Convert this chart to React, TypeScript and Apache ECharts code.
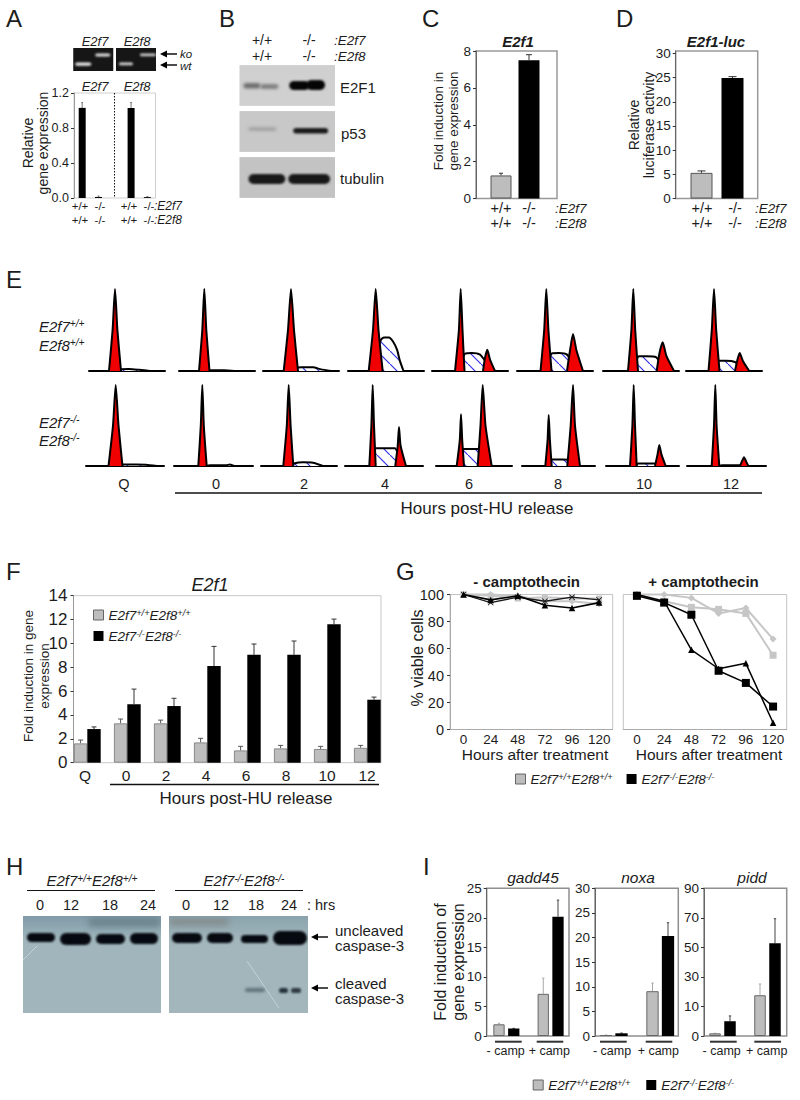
import React, { useEffect, useRef } from "react";
import * as echarts from "echarts";

const FONT = "Liberation Sans";
const WT = "E2f7+/+E2f8+/+";
const KO = "E2f7-/-E2f8-/-";
const GRAY = "#bdbdbd";
const INK = "#1c1c1c";

// ---------- Panel A ----------
const aValues = [1.03, 0.012, null, 1.03, 0.01];
const aErrTop = [1.09, 0.022, null, 1.09, 0.016];

// ---------- Panels C, D ----------
const cGray = [1.25]; const cBlack = [7.5];
const cGrayTop = [1.37]; const cBlackTop = [7.8];
const dGray = [5.3]; const dBlack = [24.9];
const dGrayTop = [5.7]; const dBlackTop = [25.2];

// ---------- Panel E: flow histograms, [channel, % of tallest peak] ----------
const flowHours = ["Q", "0", "2", "4", "6", "8", "10", "12"];
const flowTopG1 = [
  [[20,0],[23.6,50],[26,100],[28.4,50],[32,0]],
  [[20,0],[23.3,50],[25.3,100],[27.3,50],[30.5,0]],
  [[20.7,0],[25,50],[28,100],[31,50],[35,0]],
  [[20.7,0],[25,50],[27.7,100],[30.5,50],[34.7,0]],
  [[23,0],[26.9,50],[28.7,100],[30.5,50],[32.5,0]],
  [[23.5,0],[27.2,50],[29.3,100],[31.4,50],[34.5,0]],
  [[25,0],[28.4,50],[30.3,100],[32.2,50],[35,0]],
  [[22.5,0],[25.8,50],[28,100],[30.2,50],[33.5,0]],
];
const flowTopS = [
  [[28,0],[31,2],[40,2.5],[50,1.5],[61,0]],
  [[28,0],[32,1],[45,1],[56,0]],
  [[28,0],[33,3.5],[38,4.5],[50,4.5],[58,2],[68,0]],
  [[24,0],[29,25],[33,38],[36,41],[41,41],[45,36],[49,26],[52,12],[55.5,0]],
  [[25,0],[30,14],[33,21],[40,22],[48,20],[54,11],[61,0]],
  [[26,0],[31,13],[35,21.5],[42,22],[50,20],[55,10],[60,0]],
  [[28.5,0],[33,12],[36,18],[44,18],[53,17],[58,9],[64,0]],
  [[25.5,0],[29,8],[32.5,12.5],[40,12.5],[49,11],[53,6],[57.5,0]],
];
const flowTopG2 = [
  null, null, null, null,
  [[51,0],[53,16],[55.3,26],[58,14],[63,0]],
  [[50,0],[53,25],[56,45],[59.5,25],[66,0]],
  [[53.7,0],[56.5,22],[59.7,35],[63.5,18],[71,0]],
  [[49,0],[51.5,14],[53.7,22],[57,12],[63.3,0]],
];
const flowBotG1 = [
  [[22.5,0],[27,50],[29.7,100],[32.5,50],[36.5,0]],
  [[24.3,0],[26.8,50],[28.3,100],[29.8,50],[32.7,0]],
  [[22.3,0],[25.8,50],[27.7,100],[29.6,50],[32.3,0]],
  [[24.3,0],[26.4,50],[27.7,100],[29,50],[30.7,0]],
  [[20.7,0],[23.8,32],[25,64],[26.2,32],[28,0]],
  [[23.3,0],[25.6,32],[26.7,63],[27.9,32],[29.7,0]],
  [[24,0],[26.4,50],[27.7,100],[29,50],[30.7,0]],
  [[24.7,0],[27,50],[28.3,100],[29.6,50],[32.3,0]],
];
const flowBotS = [
  [[34,0],[36,2],[50,2],[60,1.5],[71,0]],
  [[32,0],[36,0.8],[52,0.8],[56,2],[60,0]],
  [[29,0],[34,3.5],[42,4.5],[52,4],[62,0]],
  [[25,0],[27,10],[31,22],[40,22],[50,22],[54,10],[57,0]],
  [[22,0],[24,10],[27.5,21],[35,21],[42,21],[47,10],[51.5,0]],
  [[24.7,0],[27,5],[30,8],[40,8],[48,7.5],[50.5,3],[53,0]],
  [[30,0],[32,3],[40,3],[49,3],[52,0]],
  [[32,0],[35,1],[45,1],[53,1],[55,0]],
];
const flowBotG2 = [
  null, null, null,
  [[50.3,0],[52.7,25],[54,48],[55.6,25],[61,0]],
  [[41.7,0],[44.5,50],[46.7,100],[49.5,50],[55.7,0]],
  [[45.3,0],[48.7,50],[51,100],[53,50],[58,0]],
  [[49,0],[51.5,14],[53.3,26],[55.5,14],[59.7,0]],
  [[53,0],[55,6],[57,10.7],[59,6],[61.3,0]],
];

// ---------- Panel F ----------
const fHours = ["Q", "0", "2", "4", "6", "8", "10", "12"];
const fGray = [1.62, 3.3, 3.3, 1.7, 1.03, 1.2, 1.15, 1.25];
const fGrayTop = [1.9, 3.66, 3.57, 2.04, 1.37, 1.45, 1.37, 1.45];
const fBlack = [2.82, 4.9, 4.75, 8.1, 9.05, 9.05, 11.6, 5.28];
const fBlackTop = [3.0, 6.17, 5.4, 9.75, 9.95, 10.2, 12.04, 5.5];

// ---------- Panel G ----------
const gHours = ["0", "24", "48", "72", "96", "120"];
const gMinusGraySquare = [100, 99, 97, 98, 97, 97];
const gMinusGrayDiamond = [100, 100, 99, 95, 95, 93];
const gMinusBlackCross = [100, 94, 98, 95, 98, 96];
const gMinusBlackTriangle = [100, 96, 99, 92, 90, 94];
const gPlusGrayDiamond = [100, 100, 97.5, 86, 90, 67];
const gPlusGraySquare = [100, 95, 90.5, 89, 86, 55];
const gPlusBlackSquare = [99, 94, 85, 43.5, 34.5, 17];
const gPlusBlackTriangle = [100, 95, 59, 45, 49, 5];

// ---------- Panel I ----------
const gadd45Values = [1.98, 1.25, null, 7.14, 20.2];
const gadd45Top = [2.15, 1.3, null, 9.8, 23];
const noxaValues = [0.2, 0.55, null, 9.1, 20.3];
const noxaTop = [0.2, 0.6, null, 10.75, 23];
const piddValues = [0.9, 5, null, 17.6, 52.8];
const piddTop = [0.9, 6.8, null, 25.2, 69.4];
const piddTickLabels = ["0", "10", "30", "50", "70", "90"];

// Blot bands: [x, y, width, height, colour, blur]
type Band = [number, number, number, number, string, number];
const gelE2f7Bands: Band[] = [[2, 14.5, 16, 3.2, "#e8e8e8", 0.8], [22, 5.5, 15, 3, "#e0e0e0", 0.8]];
const gelE2f8Bands: Band[] = [[3, 14.5, 14, 2.8, "#d6d6d6", 0.8], [24, 5.5, 16, 2.8, "#cccccc", 0.8]];
const e2f1Bands: Band[] = [[4, 18, 17, 5.5, "#6e6e6e", 1.6], [21, 19, 18, 5, "#808080", 1.6], [50, 16, 20, 9, "#050505", 1.2], [67, 15, 19, 10, "#050505", 1.2]];
const p53Bands: Band[] = [[9, 16, 28, 4, "#a5a5a5", 1.6], [54, 17, 35, 5.5, "#1a1a1a", 1.2]];
const tubulinBands: Band[] = [[9, 17, 37, 10, "#181818", 1.2], [49, 17, 42, 10, "#181818", 1.2]];
const hLeftBands: Band[] = [[65, 2, 73, 9, "rgba(85,105,115,0.55)", 3], [4, 17, 28, 9, "#060a10", 1], [37, 17, 31, 12, "#060a10", 1], [73, 18, 29, 10, "#060a10", 1], [107, 17, 28, 11, "#060a10", 1]];
const hRightBands: Band[] = [[0, 2, 60, 8, "rgba(120,115,110,0.5)", 3], [3, 17, 30, 10, "#060a10", 1], [38, 17, 26, 10, "#060a10", 1], [72, 19, 27, 8, "#060a10", 1], [104, 15, 34, 14, "#060a10", 1], [76, 72, 20, 4, "#5f7078", 1.6], [110, 72, 9, 5, "#24303a", 1.2], [122, 72, 10, 5, "#2d3a40", 1.2]];

function blot(w: number, h: number, top: string, bottom: string, bands: Band[], scratches: number[][] = []) {
  const c = document.createElement("canvas");
  c.width = w; c.height = h;
  const ctx: any = c.getContext("2d");
  const g = ctx.createLinearGradient(0, 0, 0, h);
  g.addColorStop(0, top); g.addColorStop(0.25, bottom); g.addColorStop(1, bottom);
  ctx.fillStyle = g; ctx.fillRect(0, 0, w, h);
  bands.forEach(([x, y, bw, bh, col, blur]) => {
    ctx.filter = `blur(${blur}px)`;
    ctx.fillStyle = col;
    ctx.beginPath();
    ctx.roundRect(x, y, bw, bh, bh / 2);
    ctx.fill();
  });
  ctx.filter = "blur(0.4px)";
  ctx.strokeStyle = "rgba(235,240,240,0.6)";
  ctx.lineWidth = 0.8;
  scratches.forEach(([a, b, d, e]) => { ctx.beginPath(); ctx.moveTo(a, b); ctx.lineTo(d, e); ctx.stroke(); });
  return c.toDataURL();
}

function hatchCanvas() {
  const c = document.createElement("canvas");
  c.width = 13; c.height = 13;
  const ctx: any = c.getContext("2d");
  ctx.fillStyle = "#ffffff"; ctx.fillRect(0, 0, 13, 13);
  ctx.strokeStyle = "#3232e6"; ctx.lineWidth = 1.2;
  ctx.beginPath(); ctx.moveTo(-2, -2); ctx.lineTo(15, 15); ctx.stroke();
  return c;
}

const baseRich = (size: number, weight = "normal", fill = INK) => ({
  i: { fontFamily: FONT, fontStyle: "italic", fontSize: size, fontWeight: weight, fill, color: fill },
  s: { fontFamily: FONT, fontStyle: "italic", fontSize: size * 0.68, fill, color: fill, verticalAlign: "top" },
});
const genoRich = (a: string, b?: string) => "{i|E2f" + a.slice(0, 1) + "}{s|" + a.slice(1) + "}" + (b ? "{i|E2f" + b.slice(0, 1) + "}{s|" + b.slice(1) + "}" : "");

function T(text: string, x: number, y: number, o: any = {}) {
  return {
    type: "text", x, y, rotation: o.rot || 0, silent: true, z: 20,
    style: {
      text, fontFamily: FONT, fontSize: o.size || 13, fontStyle: o.italic ? "italic" : "normal",
      fontWeight: o.bold ? "bold" : "normal", fill: o.color || INK, align: o.align || "center",
      verticalAlign: "middle", lineHeight: o.lh, rich: o.rich,
    },
  };
}
const L = (x1: number, y1: number, x2: number, y2: number, w = 1.5, color = "#111", dash?: number[]) => ({
  type: "line", silent: true, z: 20, shape: { x1, y1, x2, y2 }, style: { stroke: color, lineWidth: w, lineDash: dash },
});
const arrow = (x1: number, x2: number, y: number) => [
  L(x1, y, x2 + 5, y, 1.5),
  { type: "polygon", silent: true, z: 20, shape: { points: [[x2, y], [x2 + 7, y - 3.5], [x2 + 7, y + 3.5]] }, style: { fill: "#000" } },
];
const img = (src: string, x: number, y: number, width: number, height: number) => ({
  type: "image", x, y, silent: true, z: 5, style: { image: src, x: 0, y: 0, width, height },
});

function App() {
  const ref = useRef<HTMLDivElement>(null);
  useEffect(() => {
    const chart = echarts.init(ref.current!, undefined, { renderer: "svg" });
    const grids: any[] = [], xAxes: any[] = [], yAxes: any[] = [], series: any[] = [];

    const yAxisOf = (gi: number, o: any) => ({
      type: "value", gridIndex: gi, min: 0, max: o.max, interval: o.interval, splitLine: { show: false },
      axisLine: { show: true, onZero: false, lineStyle: { color: o.lineColor || "#666", width: 1 } },
      axisTick: { show: true, length: 3, lineStyle: { color: "#333" }, customValues: o.ticks },
      axisLabel: { fontFamily: FONT, fontSize: o.size, color: INK, margin: o.margin ?? 5, customValues: o.ticks, formatter: o.formatter },
    });

    // bar panel: x units are bar slots, c0 = centre of slot 0 in pixels, step = slot size
    function barPanel(o: any) {
      const gi = grids.length;
      grids.push({ left: o.l, top: o.t, width: o.r - o.l, height: o.b - o.t, show: true, borderColor: o.border, borderWidth: o.borderWidth || 1.5, backgroundColor: "transparent" });
      xAxes.push({ type: "value", gridIndex: gi, min: (o.l - o.c0) / o.step, max: (o.r - o.c0) / o.step, show: false, splitLine: { show: false } });
      yAxes.push(yAxisOf(gi, o));
      return gi;
    }
    const barSeries = (gi: number, name: string, data: any[], color: string, width: number, gap: string, edge?: string) => ({
      type: "bar", name, xAxisIndex: gi, yAxisIndex: gi, data, barWidth: width, barGap: gap, z: 3,
      itemStyle: { color, borderColor: edge || color, borderWidth: edge ? 1 : 0 },
    });
    const errSeries = (gi: number, data: any[], color: string, offset: number, capW: number, lw = 1) => ({
      type: "custom", xAxisIndex: gi, yAxisIndex: gi, data, clip: false, silent: true, z: 2,
      encode: { x: 0, y: [1, 2] },
      renderItem: (_: any, api: any) => {
        const a = api.coord([api.value(0), api.value(1)]);
        const b = api.coord([api.value(0), api.value(2)]);
        const x = a[0] + offset;
        return {
          type: "group",
          children: [
            { type: "line", shape: { x1: x, y1: a[1], x2: x, y2: b[1] }, style: { stroke: color, lineWidth: lw } },
            { type: "line", shape: { x1: x - capW, y1: b[1], x2: x + capW, y2: b[1] }, style: { stroke: color, lineWidth: lw } },
          ],
        };
      },
    });
    const pts = (vals: any[], xs?: number[]) => vals.map((v, i) => [xs ? xs[i] : i, v]);
    const err = (vals: any[], tops: any[], xs?: number[]) => vals.map((v, i) => [xs ? xs[i] : i, v, tops[i]]).filter((d) => d[1] != null);

    // A
    let gi = barPanel({ l: 74, t: 93, r: 155.5, b: 198, c0: 82.2, step: 16.3, border: "#cfcfcf", max: 1.2, interval: 0.4, size: 12.5, borderWidth: 1, formatter: (v: number) => v.toFixed(1), lineColor: "#999" });
    series.push(errSeries(gi, err(aValues, aErrTop), "#777", 0, 1));
    series.push(barSeries(gi, "A", pts(aValues), "#000", 7, "0%"));

    // C
    gi = barPanel({ l: 476, t: 51, r: 557, b: 198.5, c0: 501, step: 28, border: "#999", max: 8, interval: 2, size: 13.5 });
    series.push(errSeries(gi, err(cGray, cGrayTop), "#333", 0, 2), errSeries(gi, err(cBlack, cBlackTop, [1]), "#333", 0, 3));
    series.push(barSeries(gi, "cwt", pts(cGray), GRAY, 21, "-100%", "#555"));
    series.push(barSeries(gi, "cko", pts(cBlack, [1]), "#000", 21, "-100%"));

    // D
    gi = barPanel({ l: 675.7, t: 51, r: 757.7, b: 198.5, c0: 701.5, step: 31, border: "#999", max: 30.5, size: 13.5, ticks: [0, 5, 10, 15, 20, 25, 30] });
    series.push(errSeries(gi, err(dGray, dGrayTop), "#333", 0, 4), errSeries(gi, err(dBlack, dBlackTop, [1]), "#333", 0, 4));
    series.push(barSeries(gi, "dwt", pts(dGray), GRAY, 22, "-100%", "#555"));
    series.push(barSeries(gi, "dko", pts(dBlack, [1]), "#000", 22, "-100%"));

    // E
    const hatch = { image: hatchCanvas(), repeat: "repeat", imageWidth: 13, imageHeight: 13 };
    const flowLine = (gi: number, data: any, fill: any, z: number, name: string) => ({
      type: "line", name, xAxisIndex: gi, yAxisIndex: gi, data, symbol: "none", smooth: 0.2, clip: false, z, silent: true,
      lineStyle: { color: "#000", width: 2 }, areaStyle: { color: fill, opacity: 1 },
    });
    const flowRow = (lefts: number[], rights: number[], baseline: number, height: number, g1: any[], s: any[], g2: any[], row: string) => {
      lefts.forEach((left, i) => {
        const g = grids.length, w = rights[i] - left;
        grids.push({ left, top: baseline - height, width: w, height, show: false });
        xAxes.push({ type: "value", gridIndex: g, min: 0, max: w, axisLine: { show: true, onZero: true, lineStyle: { color: "#000", width: 2 } }, axisTick: { show: false }, axisLabel: { show: false }, splitLine: { show: false } });
        yAxes.push({ type: "value", gridIndex: g, min: 0, max: 100, show: false, splitLine: { show: false } });
        const tag = row + flowHours[i];
        series.push(flowLine(g, s[i], hatch, 3, tag + " S"));
        series.push(flowLine(g, g1[i], "#f00000", 4, tag + " G1"));
        if (g2[i]) series.push(flowLine(g, g2[i], "#f00000", 4, tag + " G2"));
      });
    };
    flowRow([89, 179, 263, 348, 432, 517, 603, 686], [165, 255, 339, 424, 508, 593, 679, 762], 371, 82, flowTopG1, flowTopS, flowTopG2, "wt");
    flowRow([86, 174, 261, 345, 436, 522, 606, 687], [164, 253, 337, 423, 512, 595, 679, 766], 466, 81, flowBotG1, flowBotS, flowBotG2, "ko");

    // F
    gi = barPanel({ l: 73.5, t: 595.7, r: 381, b: 762.7, c0: 87.3, step: 40, border: "#c8c8c8", borderWidth: 1, max: 14, interval: 2, size: 17, margin: 6, lineColor: "#999" });
    series.push(errSeries(gi, err(fGray, fGrayTop), "#555", -6.7, 2.5), errSeries(gi, err(fBlack, fBlackTop), "#333", 6.7, 2.5));
    series.push(barSeries(gi, WT, pts(fGray), GRAY, 13.4, "0%", "#888"));
    series.push(barSeries(gi, KO, pts(fBlack), "#000", 13.4, "0%"));

    // G
    const linePanel = (l: number, r: number, labels: boolean) => {
      const g = grids.length;
      grids.push({ left: l, top: 594.5, width: r - l, height: 135, show: true, borderColor: "#c4c4c4", borderWidth: 1 });
      xAxes.push({ type: "category", gridIndex: g, data: gHours, boundaryGap: true, axisLine: { show: true, lineStyle: { color: "#aaa" } }, axisTick: { show: false }, axisLabel: { fontFamily: FONT, fontSize: 13.5, color: INK, margin: 3, interval: 0 } });
      yAxes.push({ type: "value", gridIndex: g, min: 0, max: 100, interval: 20, splitLine: { show: false }, axisLine: { show: labels, onZero: false, lineStyle: { color: "#aaa" } }, axisTick: { show: labels, length: 3, lineStyle: { color: "#333" } }, axisLabel: { show: labels, fontFamily: FONT, fontSize: 14.5, color: INK, margin: 6 } });
      return g;
    };
    const CROSS = "path://M1 0L5 4L9 0L10 1L6 5L10 9L9 10L5 6L1 10L0 9L4 5L0 1Z";
    const lineS = (g: number, name: string, data: number[], color: string, symbol: string, size: number, w: number, z: number) => ({
      type: "line", name, xAxisIndex: g, yAxisIndex: g, data, symbol, symbolSize: size, z, clip: false, silent: true,
      lineStyle: { color, width: w }, itemStyle: { color },
    });
    const gl = linePanel(450, 612.7, true);
    series.push(lineS(gl, WT, gMinusGraySquare, "#c6c6c6", "rect", 6, 2, 3));
    series.push(lineS(gl, WT, gMinusGrayDiamond, "#c6c6c6", "diamond", 7, 2, 3));
    series.push(lineS(gl, KO, gMinusBlackCross, "#1a1a1a", CROSS, 6, 1.3, 4));
    series.push(lineS(gl, KO, gMinusBlackTriangle, "#000", "triangle", 6.5, 1.6, 5));
    const gr = linePanel(623.3, 786.7, false);
    series.push(lineS(gr, WT, gPlusGrayDiamond, "#c6c6c6", "diamond", 7, 2, 3));
    series.push(lineS(gr, WT, gPlusGraySquare, "#c6c6c6", "rect", 7, 2, 3));
    series.push(lineS(gr, KO, gPlusBlackSquare, "#000", "rect", 8, 1.5, 4));
    series.push(lineS(gr, KO, gPlusBlackTriangle, "#000", "triangle", 6.5, 1.5, 5));

    // I
    const slots = [0, 1, 2, 3, 4];
    const iPanel = (o: any, values: any[], tops: any[], width: number) => {
      const g = barPanel({ t: 888.3, b: 1036, border: "#8f8f8f", size: 13.5, margin: 5, ...o });
      const wt = values.map((v, i) => (i === 0 || i === 3 ? [slots[i], v] : null)).filter(Boolean);
      const ko = values.map((v, i) => (i === 1 || i === 4 ? [slots[i], v] : null)).filter(Boolean);
      const e = err(values, tops);
      series.push(errSeries(g, e.filter((d) => d[0] === 0 || d[0] === 3), "#a8a8a8", 0, 1.2));
      series.push(errSeries(g, e.filter((d) => d[0] === 1 || d[0] === 4), "#444", 0, 1.2));
      series.push(barSeries(g, WT, wt, GRAY, width, "-100%", "#666"));
      series.push(barSeries(g, KO, ko, "#000", width, "-100%"));
    };
    iPanel({ l: 486.7, r: 569, c0: 499, step: 14.75, max: 25, interval: 5 }, gadd45Values, gadd45Top, 11.3);
    iPanel({ l: 595, r: 678.3, c0: 606, step: 15.5, max: 30, interval: 5 }, noxaValues, noxaTop, 12.3);
    // the published pidd axis has equally spaced 0, 10, 30, 50, 70, 90: values are mapped onto that scale
    const piddScale = (v: any) => (v == null ? null : v < 10 ? v / 10 : 1 + (v - 10) / 20);
    iPanel(
      { l: 704, r: 786.7, c0: 715, step: 15, max: 5, interval: 1, formatter: (v: number) => piddTickLabels[v] ?? "" },
      piddValues.map(piddScale), piddTop.map(piddScale), 11.5,
    );

    // Blots and text
    const gels = [
      img(blot(40, 23, "#161616", "#161616", gelE2f7Bands), 73, 48, 40.5, 23),
      img(blot(40, 23, "#161616", "#161616", gelE2f8Bands), 116, 48, 40, 23),
      img(blot(96, 41, "#cfcfcf", "#d0d0d0", e2f1Bands), 239.5, 65, 95.5, 41),
      img(blot(96, 41, "#c8c8c8", "#c8c8c8", p53Bands), 239.5, 111, 95.5, 41),
      img(blot(96, 41, "#c3c3c3", "#c3c3c3", tubulinBands), 239.5, 157, 95.5, 41),
      img(blot(138, 97, "#7f9ba8", "#a0b6bc", hLeftBands, [[0, 44, 14, 30]]), 23, 916, 138, 97),
      img(blot(139, 97, "#8aa3ad", "#a2b6bc", hRightBands, [[78, 45, 110, 92]]), 169, 916, 139, 97),
    ];
    const sub = baseRich(15);
    const heading = baseRich(15);
    const texts: any[] = [
      T("A", 6, 18, { size: 24, align: "left" }), T("B", 219, 18, { size: 24, align: "left" }),
      T("C", 422, 18, { size: 24, align: "left" }), T("D", 616, 18, { size: 24, align: "left" }),
      T("E", 6, 279, { size: 24, align: "left" }), T("F", 6, 571, { size: 24, align: "left" }),
      T("G", 396, 571, { size: 24, align: "left" }), T("H", 6, 866, { size: 24, align: "left" }),
      T("I", 423, 866, { size: 24, align: "left" }),
      // A
      T("E2f7", 95, 41, { italic: true, size: 13 }), T("E2f8", 137, 41, { italic: true, size: 13 }),
      T("ko", 180, 53.5, { italic: true, size: 11.5, align: "left" }), T("wt", 180, 65.5, { italic: true, size: 11.5, align: "left" }),
      ...arrow(177, 160, 54), ...arrow(177, 160, 65),
      T("E2f7", 95, 86, { italic: true, size: 13 }), T("E2f8", 137, 86, { italic: true, size: 13 }),
      L(114.5, 93, 114.5, 198, 1, "#111", [1.5, 1.5]),
      T("Relative\ngene expression", 35, 143, { size: 14, rot: Math.PI / 2, lh: 15 }),
      T("+/+", 80, 206, { size: 11.5 }), T("-/-", 100, 206, { size: 11.5 }), T("+/+", 129, 206, { size: 11.5 }), T("-/-", 149, 206, { size: 11.5 }),
      T("+/+", 80, 220, { size: 11.5 }), T("-/-", 100, 220, { size: 11.5 }), T("+/+", 129, 220, { size: 11.5 }), T("-/-", 149, 220, { size: 11.5 }),
      T(":E2f7", 154, 206, { italic: true, size: 12, align: "left" }), T(":E2f8", 154, 220, { italic: true, size: 12, align: "left" }),
      // B
      T("+/+", 262, 40, { size: 14 }), T("-/-", 309, 40, { size: 14 }), T(":E2f7", 334, 40, { italic: true, size: 13.5, align: "left" }),
      T("+/+", 262, 56, { size: 14 }), T("-/-", 309, 56, { size: 14 }), T(":E2f8", 334, 56, { italic: true, size: 13.5, align: "left" }),
      T("E2F1", 340, 87, { size: 15, align: "left" }), T("p53", 341, 133, { size: 15, align: "left" }), T("tubulin", 340, 178, { size: 15, align: "left" }),
      // C
      T("E2f1", 518, 41, { italic: true, bold: true, size: 15 }),
      T("Fold induction in\ngene expression", 446, 121, { size: 13.5, rot: Math.PI / 2, lh: 15 }),
      T("+/+", 501, 208, { size: 14.5 }), T("-/-", 529, 208, { size: 14.5 }), T(":E2f7", 555, 208, { italic: true, size: 13.5, align: "left" }),
      T("+/+", 501, 223, { size: 14.5 }), T("-/-", 529, 223, { size: 14.5 }), T(":E2f8", 555, 223, { italic: true, size: 13.5, align: "left" }),
      // D
      T("E2f1-luc", 716, 41, { italic: true, bold: true, size: 15 }),
      T("Relative\nluciferase activity", 641, 125, { size: 14, rot: Math.PI / 2, lh: 15 }),
      T("+/+", 702, 208, { size: 14.5 }), T("-/-", 735, 208, { size: 14.5 }), T(":E2f7", 755, 208, { italic: true, size: 13.5, align: "left" }),
      T("+/+", 702, 223, { size: 14.5 }), T("-/-", 735, 223, { size: 14.5 }), T(":E2f8", 755, 223, { italic: true, size: 13.5, align: "left" }),
      // E
      T(genoRich("7+/+"), 39, 326, { align: "left", rich: sub }), T(genoRich("8+/+"), 39, 345, { align: "left", rich: sub }),
      T(genoRich("7-/-"), 39, 422, { align: "left", rich: sub }), T(genoRich("8-/-"), 39, 440, { align: "left", rich: sub }),
      ...flowHours.map((h, i) => T(h, [124, 216, 304, 385, 469, 558, 644, 731][i], 484, { size: 14.5 })),
      L(175, 493, 762, 493, 1.5), T("Hours post-HU release", 487, 508, { size: 17 }),
      // F
      T("E2f1", 210, 585, { italic: true, size: 18 }),
      T("Fold induction in gene\nexpression", 36, 676, { size: 13.5, rot: Math.PI / 2, lh: 16 }),
      ...fHours.map((h, i) => T(h, [85, 126, 166, 206, 246, 286, 327, 367][i], 775, { size: 15.5 })),
      L(110, 784.5, 379, 784.5, 1.5), T("Hours post-HU release", 246, 798, { size: 17 }),
      // G
      T("- camptothecin", 526.7, 581.5, { bold: true, size: 15 }), T("+ camptothecin", 703.5, 581.5, { bold: true, size: 15 }),
      T("% viable cells", 417, 658, { size: 16, rot: Math.PI / 2 }),
      T("Hours after treatment", 535, 754, { size: 15.5 }), T("Hours after treatment", 709, 754, { size: 15.5 }),
      // H
      T(genoRich("7+/+", "8+/+"), 92, 880.5, { rich: heading }), T(genoRich("7-/-", "8-/-"), 244, 880.5, { rich: heading }),
      L(27, 890.5, 155, 890.5, 1.2), L(175, 890.5, 303, 890.5, 1.2),
      ...["0", "12", "18", "24", "0", "12", "18", "24"].map((h, i) => T(h, [40, 71, 110, 148, 186, 221, 256, 289][i], 905, { size: 14.5 })),
      T(": hrs", 307, 905, { size: 14.5, align: "left" }),
      ...arrow(328, 311, 937), ...arrow(328, 311, 988),
      T("uncleaved", 335, 930, { size: 15, align: "left" }), T("caspase-3", 335, 945, { size: 15, align: "left" }),
      T("cleaved", 335, 983, { size: 15, align: "left" }), T("caspase-3", 335, 998, { size: 15, align: "left" }),
      // I
      T("gadd45", 533, 877, { italic: true, size: 15.5 }), T("noxa", 638, 877, { italic: true, size: 15.5 }), T("pidd", 752, 877, { italic: true, size: 15.5 }),
      T("Fold induction of\ngene expression", 449, 962, { size: 16, rot: Math.PI / 2, lh: 18 }),
      L(495, 1041.7, 521.7, 1041.7, 2, "#333"), L(536.7, 1041.7, 563.3, 1041.7, 2, "#333"),
      L(600, 1041.7, 626.7, 1041.7, 2, "#333"), L(645.7, 1041.7, 672.3, 1041.7, 2, "#333"),
      L(710, 1041.7, 736.7, 1041.7, 2, "#333"), L(754.3, 1041.7, 781, 1041.7, 2, "#333"),
      ...[[505.7, "- camp"], [549.3, "+ camp"], [612, "- camp"], [658.3, "+ camp"], [721.7, "- camp"], [766.7, "+ camp"]].map(([x, s]) => T(s as string, x as number, 1051, { size: 12.5 })),
    ];

    const legendFormatter = (n: string) => (n === WT ? genoRich("7+/+", "8+/+") : genoRich("7-/-", "8-/-"));
    const legendData = [
      { name: WT, icon: "rect", itemStyle: { color: GRAY, borderColor: "#666", borderWidth: 1 } },
      { name: KO, icon: "rect", itemStyle: { color: "#000", borderWidth: 0 } },
    ];
    const legend = (left: number, top: number, orient: string, gap: number) => ({
      left, top, orient, itemGap: gap, itemWidth: 10, itemHeight: 10, padding: 0, selectedMode: false,
      data: legendData, formatter: legendFormatter,
      textStyle: { fontFamily: FONT, fontSize: 13.5, rich: baseRich(13.5) },
    });

    chart.setOption({
      animation: false,
      backgroundColor: "#ffffff",
      textStyle: { fontFamily: FONT },
      grid: grids, xAxis: xAxes, yAxis: yAxes, series,
      legend: [legend(93, 608, "vertical", 7), legend(515, 772, "horizontal", 14), legend(532.7, 1078, "horizontal", 16)],
      graphic: { elements: [...gels, ...texts] },
    });
    return () => chart.dispose();
  }, []);
  return <div ref={ref} style={{ position: "absolute", left: 0, top: 0, width: 800, height: 1100 }} />;
}

export default App;
